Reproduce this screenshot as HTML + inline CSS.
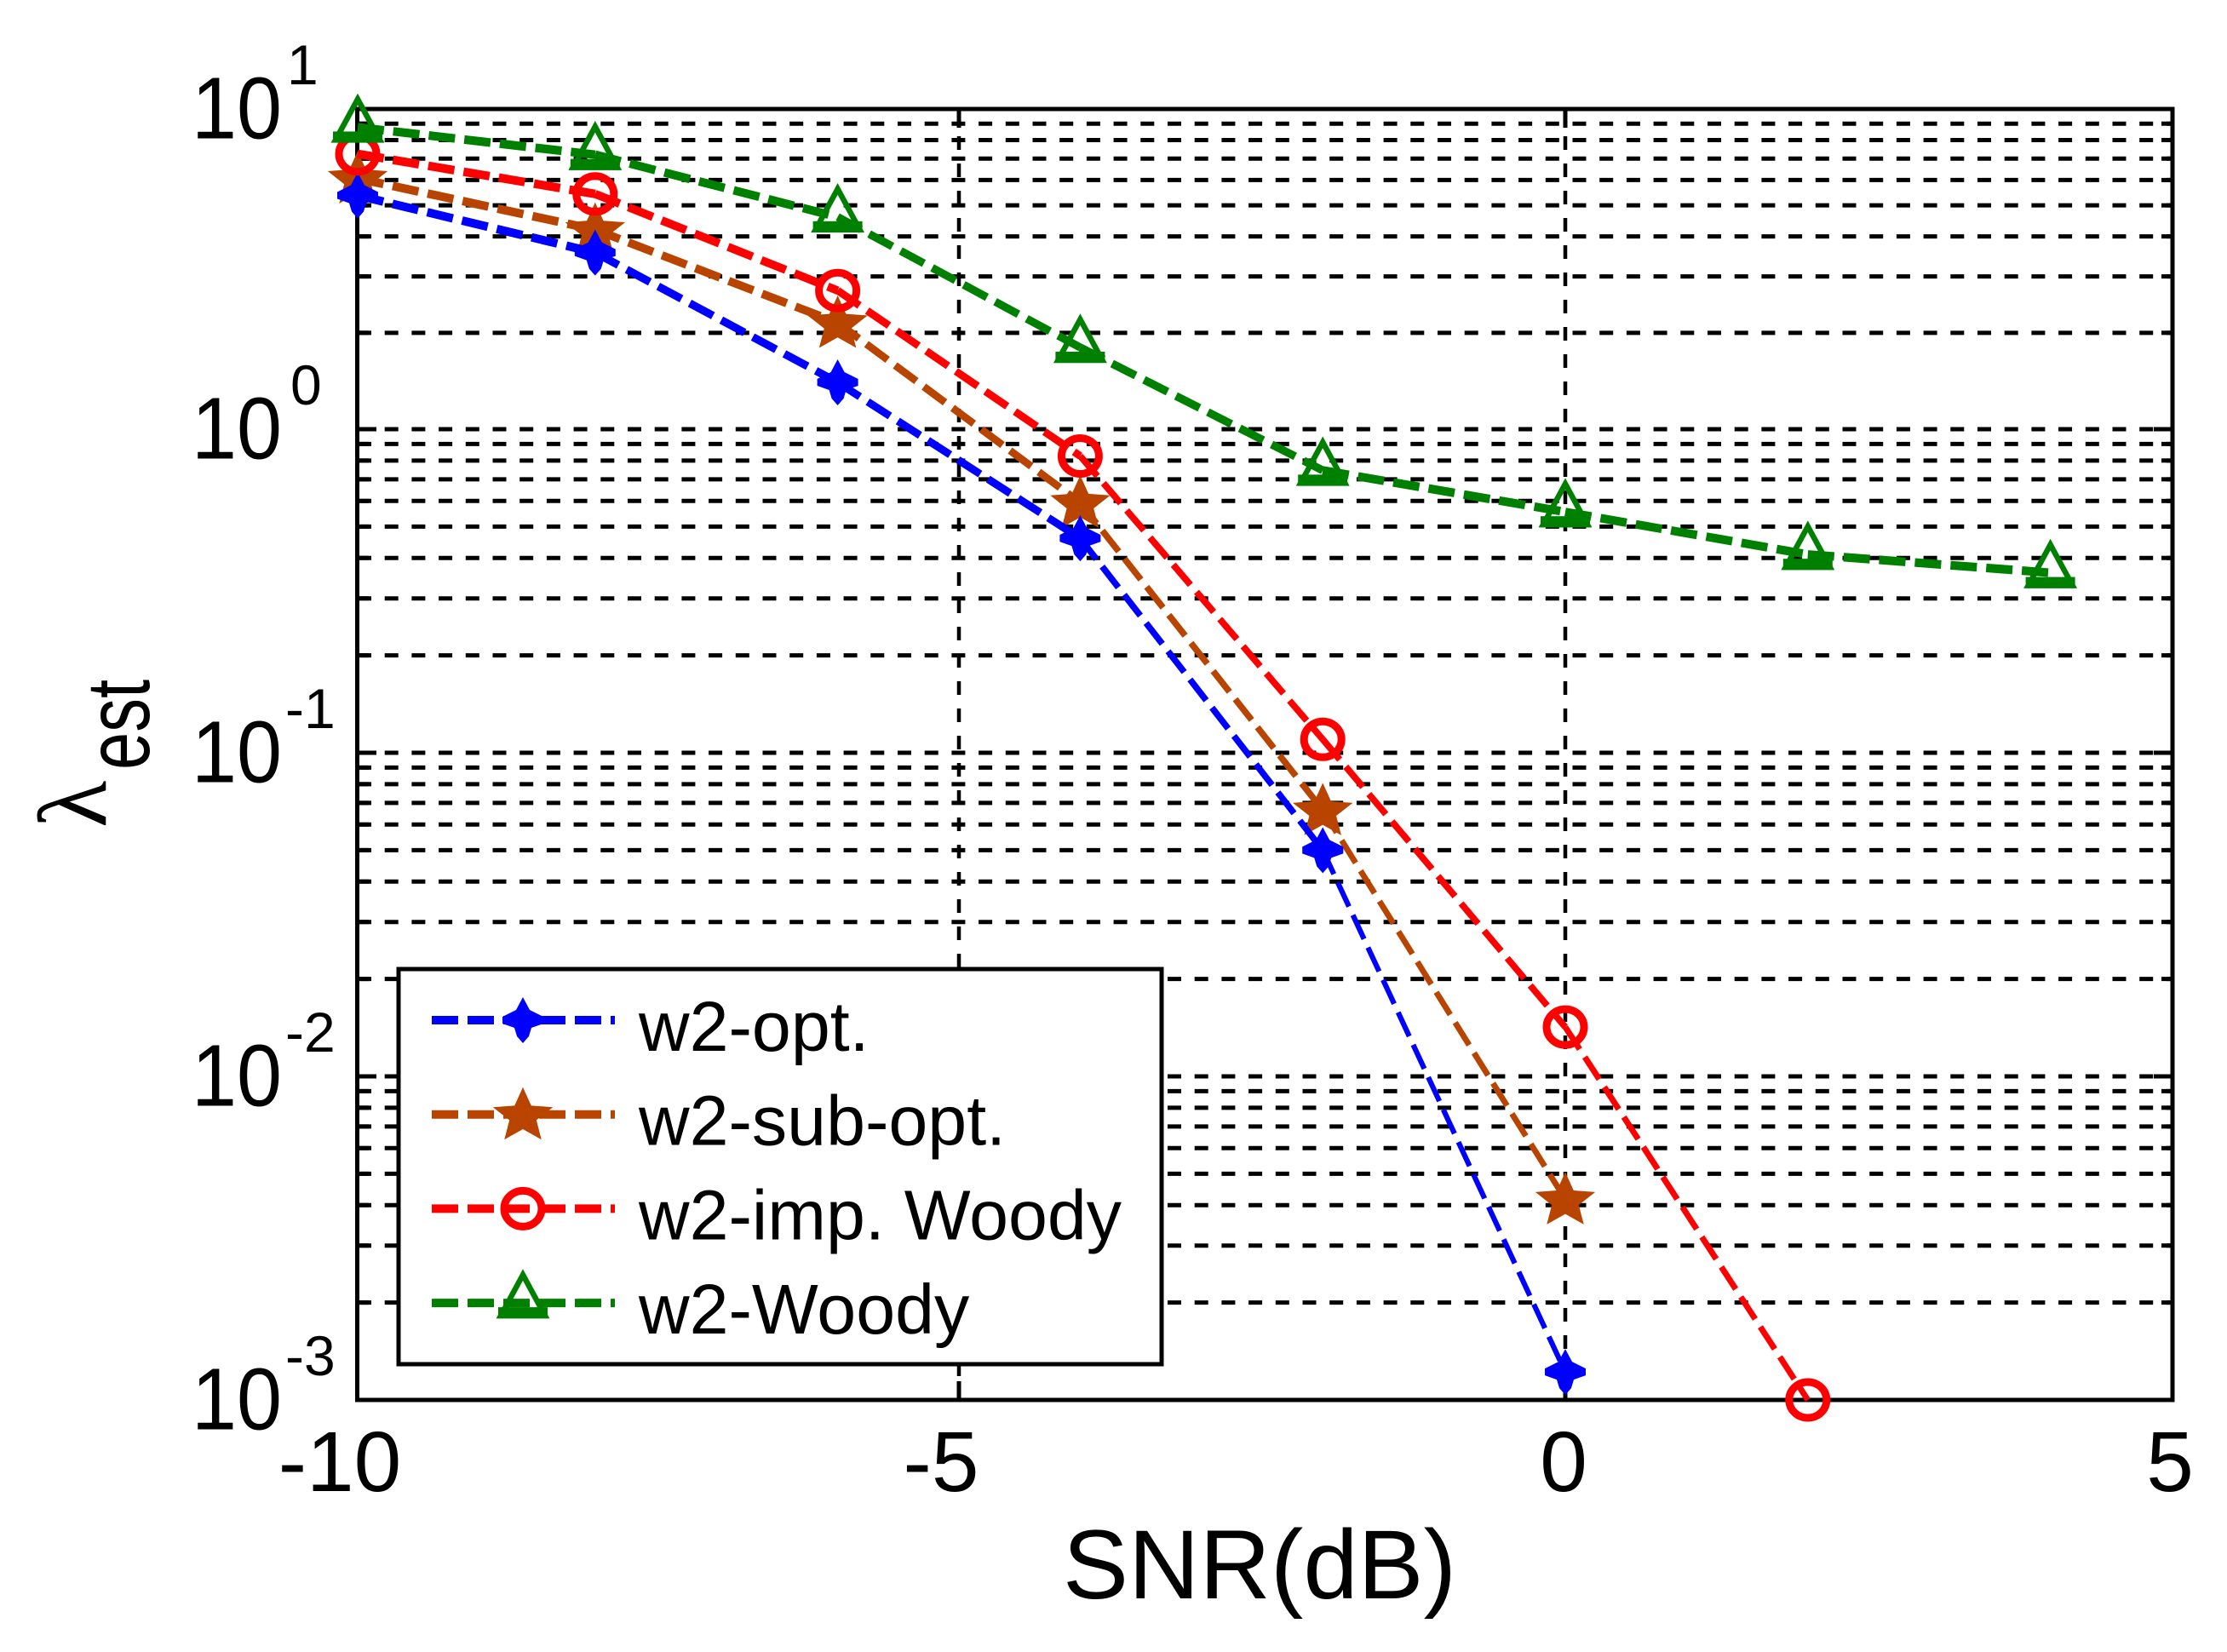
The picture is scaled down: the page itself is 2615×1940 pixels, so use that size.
<!DOCTYPE html>
<html lang="en">
<head>
<meta charset="utf-8">
<title>SNR chart</title>
<style>
html,body{margin:0;padding:0;background:#fff;}
svg{display:block;}
text{font-family:"Liberation Sans",sans-serif;fill:#000;}
</style>
</head>
<body>
<svg id="chart" xmlns="http://www.w3.org/2000/svg" width="2615" height="1940" viewBox="0 0 2615 1940">
  <rect x="0" y="0" width="2615" height="1940" fill="#fff"/>
  <g id="grid"></g>
  <g id="ticks"></g>
  <rect x="419.5" y="128" width="2131.5" height="1516" fill="none" stroke="#000" stroke-width="5"/>
  <g id="series"></g>
  <g id="ticklabels"></g>
  <text x="1248" y="1877" font-size="115.5">SNR(dB)</text>
  <g>
    <text transform="translate(124,972) rotate(-90)" font-size="114" style="font-family:'Liberation Serif',serif">λ</text>
    <text transform="translate(175,904) rotate(-90) scale(.75,1)" font-size="106">est</text>
  </g>
  <g id="legend">
    <rect x="468" y="1138" width="896" height="464" fill="#fff" stroke="#000" stroke-width="5"/>
  </g>
</svg>
<script>
// ---- chart data ----
var snrValues = [-10, -8, -6, -4, -2, 0, 2, 4];
var optValues = [5.37, 3.56, 1.40, 0.46, 0.050, 0.00122, null, null];
var subOptValues = [6.07, 4.20, 2.15, 0.593, 0.0665, 0.00417, null, null];
var impWoodyValues = [7.24, 5.43, 2.71, 0.826, 0.110, 0.0142, 0.001, null];
var woodyValues = [8.77, 7.20, 4.60, 1.80, 0.746, 0.555, 0.41, 0.36];
var xTickValues = [-10, -5, 0, 5];
var xTickLabels = ['-10', '-5', '0', '5'];
var yTickExponents = [1, 0, -1, -2, -3];
var legendLabels = ['w2-opt.', 'w2-sub-opt.', 'w2-imp. Woody', 'w2-Woody'];

var NS = 'http://www.w3.org/2000/svg';
var BLUE = '#0000ff', BROWN = '#b84400', RED = '#ff0000', GREEN = '#008000';

function xScale(v) {
  if (v >= -8) return 1838 + 142.4 * v;
  return 698 + 139 * (v + 8);
}
function yScale(v) {
  var lg = Math.log10(v);
  return lg >= 0 ? 504 - 376 * lg : 504 - 380 * lg;
}
function mk(tag, parent, attrs) {
  var el = document.createElementNS(NS, tag);
  for (var k in attrs) el.setAttribute(k, attrs[k]);
  parent.appendChild(el);
  return el;
}

var grid = document.getElementById('grid');
var ticks = document.getElementById('ticks');
var tickLabels = document.getElementById('ticklabels');
var seriesG = document.getElementById('series');
var legend = document.getElementById('legend');

// horizontal grid and y ticks
for (var e = -3; e < 1; e++) {
  for (var m = 1; m <= 9; m++) {
    var val = m * Math.pow(10, e);
    var yy = yScale(val);
    if (!(e === -3 && m === 1)) {
      var gl = mk('line', grid, {x1: 420, x2: 2551, y1: yy, y2: yy, stroke: '#000', 'stroke-width': 5, 'stroke-dasharray': '16 15.7'});
      
      
    }
    var tl = m === 1 ? 22 : 13;
    var t1 = mk('line', ticks, {x1: 420, x2: 420 + tl, y1: yy, y2: yy, stroke: '#000', 'stroke-width': 5});
    
    
    var t2 = mk('line', ticks, {x1: 2551, x2: 2551 - tl, y1: yy, y2: yy, stroke: '#000', 'stroke-width': 5});
    
    
  }
}

// vertical grid and x ticks
xTickValues.forEach(function (v, i) {
  var xx = xScale(v);
  if (v > -10 && v < 5) {
    var gv = mk('line', grid, {x1: xx, x2: xx, y1: 128, y2: 1644, stroke: '#000', 'stroke-width': 4.5, 'stroke-dasharray': '16 16'});
    
    
    var tb = mk('line', ticks, {x1: xx, x2: xx, y1: 1644, y2: 1622, stroke: '#000', 'stroke-width': 5});
    
    
    var tt = mk('line', ticks, {x1: xx, x2: xx, y1: 128, y2: 150, stroke: '#000', 'stroke-width': 5});
    
    
  }
  var off = v < 0 ? -21 : -2;
  var lab = mk('text', tickLabels, {x: xx + off, y: 1751, 'font-size': 100, 'text-anchor': 'middle'});
  lab.textContent = xTickLabels[i];
  
  
});

// y tick labels
yTickExponents.forEach(function (ex) {
  var yy = yScale(Math.pow(10, ex));
  var base = mk('text', tickLabels, {x: 225, y: yy + 34.5, 'font-size': 103, textLength: 106, lengthAdjust: 'spacingAndGlyphs'});
  base.textContent = '10';
  
  
  var expo = mk('text', tickLabels, {x: ex < 0 ? 335 : (ex === 0 ? 341 : 337), y: yy - 29, 'font-size': 66});
  expo.textContent = String(ex);
  
  
});

// marker shapes
function drawMarker(kind, parent, cx, cy, color) {
  var el;
  if (kind === 'plus') {
    var a = [[0,-27],[8,-12],[24,-4],[24,4],[10,9],[7,19],[0,27],[-7,19],[-10,9],[-24,4],[-24,-4],[-8,-12]];
    el = mk('polygon', parent, {fill: color, points: a.map(function (p) { return (cx + p[0]) + ',' + (cy + p[1]); }).join(' ')});
  } else if (kind === 'star') {
    var pts = [];
    for (var i = 0; i < 10; i++) {
      var r = i % 2 === 0 ? 1 : 0.45;
      var ang = -Math.PI / 2 + i * Math.PI / 5;
      pts.push((cx + 37 * r * Math.cos(ang)) + ',' + (cy + 2 + 34 * r * Math.sin(ang)));
    }
    el = mk('polygon', parent, {fill: color, points: pts.join(' ')});
  } else if (kind === 'circle') {
    el = mk('ellipse', parent, {cx: cx, cy: cy, rx: 22, ry: 21, fill: 'none', stroke: color, 'stroke-width': 9});
  } else {
    el = mk('g', parent, {});
    mk('polygon', el, {points: cx + ',' + (cy - 33) + ' ' + (cx + 26) + ',' + (cy + 15) + ' ' + (cx - 26) + ',' + (cy + 15), fill: 'none', stroke: color, 'stroke-width': 6.5});
    mk('rect', el, {x: cx - 29, y: cy + 5, width: 58, height: 13, fill: color});
  }
  return el;
}

var seriesDefs = [
  {name: 'w2-sub-opt', values: subOptValues, color: BROWN, marker: 'star'},
  {name: 'w2-opt', values: optValues, color: BLUE, marker: 'plus'},
  {name: 'w2-imp-woody', values: impWoodyValues, color: RED, marker: 'circle'},
  {name: 'w2-woody', values: woodyValues, color: GREEN, marker: 'triangle'}
];

seriesDefs.forEach(function (s) {
  var g = mk('g', seriesG, {});
  
  
  var pts = [];
  s.values.forEach(function (v, i) {
    if (v !== null) pts.push([xScale(snrValues[i]), yScale(v)]);
  });
  for (var i = 0; i + 1 < pts.length; i++) {
    var dx = pts[i + 1][0] - pts[i][0], dy = pts[i + 1][1] - pts[i][1];
    var c = Math.abs(dx) / Math.sqrt(dx * dx + dy * dy);
    var seg = mk('line', g, {x1: pts[i][0], y1: pts[i][1], x2: pts[i + 1][0], y2: pts[i + 1][1], stroke: s.color, 'stroke-width': (3.2 + 7 * c).toFixed(2), 'stroke-dasharray': '31 11'});
    
    
  }
  pts.forEach(function (p) {
    var mEl = drawMarker(s.marker, g, p[0], p[1], s.color);
    
    
  });
});

// legend
var legendDefs = [
  {color: BLUE, marker: 'plus'},
  {color: BROWN, marker: 'star'},
  {color: RED, marker: 'circle'},
  {color: GREEN, marker: 'triangle'}
];
legendDefs.forEach(function (d, i) {
  var ly = 1198 + i * 110.7;
  var row = mk('g', legend, {});
  
  
  var ln = mk('line', row, {x1: 507, x2: 722, y1: ly, y2: ly, stroke: d.color, 'stroke-width': 10, 'stroke-dasharray': '31 11'});
  
  
  var mm = drawMarker(d.marker, row, 614, ly, d.color);
  
  
  var tx = mk('text', row, {x: 750, y: ly + 36, 'font-size': 82.5});
  tx.textContent = legendLabels[i];
  
  
});
</script>
</body>
</html>
